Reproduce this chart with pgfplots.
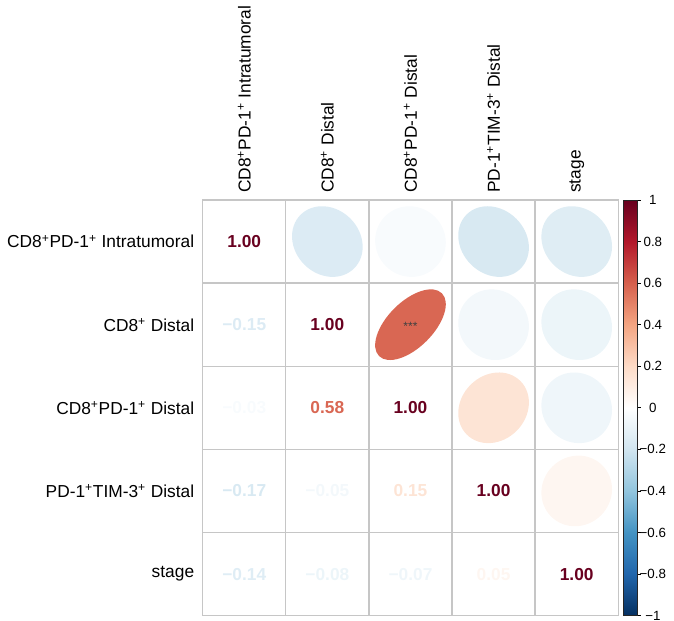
\documentclass[border=0pt]{standalone}
\usepackage{pgfplots}
\pgfplotsset{compat=1.18}
\usepackage{pgfplotstable}
\usepackage{fontspec}
\setmainfont{Liberation Sans}
\pgfdeclareplotmark{empty}{}
\pgfplotsset{
  colormap={RdBu}{rgb255=(5,48,97) rgb255=(33,102,172) rgb255=(67,147,195) rgb255=(146,197,222) rgb255=(209,229,240) rgb255=(255,255,255) rgb255=(253,219,199) rgb255=(244,165,130) rgb255=(214,96,77) rgb255=(178,24,43) rgb255=(103,0,31)}
}
% upper triangle: ellipses (x = column, y = 6 - row)
\pgfplotstableread{
x y r
2 5 -0.15
3 5 -0.03
4 5 -0.17
5 5 -0.14
3 4 0.58
4 4 -0.05
5 4 -0.08
4 3 0.15
5 3 -0.07
5 2 0.05
}\uppertab
% lower triangle and diagonal: numbers
\pgfplotstableread{
x y r
1 5 1.00
1 4 -0.15
2 4 1.00
1 3 -0.03
2 3 0.58
3 3 1.00
1 2 -0.17
2 2 -0.05
3 2 0.15
4 2 1.00
1 1 -0.14
2 1 -0.08
3 1 -0.07
4 1 0.05
5 1 1.00
}\lowertab
\begin{document}
\begin{tikzpicture}
\begin{axis}[
  name=main,
  x=62.33pt, y=62.33pt,
  xmin=0.5, xmax=5.5, ymin=0.5, ymax=5.5,
  xtick={1,2,3,4,5}, ytick={1,2,3,4,5},
  xticklabels={CD8\textsuperscript{+}PD-1\textsuperscript{+} Intratumoral, CD8\textsuperscript{+} Distal, CD8\textsuperscript{+}PD-1\textsuperscript{+} Distal, PD-1\textsuperscript{+}TIM-3\textsuperscript{+} Distal, stage},
  yticklabels={stage, PD-1\textsuperscript{+}TIM-3\textsuperscript{+} Distal, CD8\textsuperscript{+}PD-1\textsuperscript{+} Distal, CD8\textsuperscript{+} Distal, CD8\textsuperscript{+}PD-1\textsuperscript{+} Intratumoral},
  xticklabel pos=right,
  xticklabel style={rotate=90, anchor=west, inner sep=5.25pt},
  yticklabel style={anchor=east, inner sep=6.2pt},
  tick label style={font=\fontsize{13}{15}\selectfont},
  extra x ticks={1.5,2.5,3.5,4.5},
  extra y ticks={1.5,2.5,3.5,4.5},
  extra x tick labels={}, extra y tick labels={},
  extra tick style={grid=major, major grid style={gray!45, line width=1pt}, major tick length=0pt},
  axis line style={gray!45, line width=1pt},
  major tick length=0pt, minor tick length=0pt,
  point meta min=-1, point meta max=1,
  colormap name=RdBu,
  colorbar,
  colorbar style={
    at={(parent axis.north east)}, anchor=north west, xshift=-4.6pt,
    scale only axis, width=10.5pt, height=311.65pt,
    ymin=-1, ymax=1,
    ytick={-1,-0.8,-0.6,-0.4,-0.2,0,0.2,0.4,0.6,0.8,1},
    yticklabels={−1,−0.8,−0.6,−0.4,−0.2,0,0.2,0.4,0.6,0.8,1},
    ytick pos=right, yticklabel pos=right,
    tick align=outside, major tick length=2.5pt,
    ytick style={black, line width=0.6pt},
    axis line style={black!85, line width=0.6pt},
    yticklabel style={font=\fontsize{10}{12}\selectfont, anchor=center, xshift=9pt},
  },
]
\addplot[scatter, only marks, mark=empty, point meta=explicit,
  scatter/@pre marker code/.code={%
    \pgfscope
    \pgfplotscolormapdefinemappedcolor{\pgfplotspointmetatransformed}%
    \pgfmathsetmacro\rval{\pgfplotspointmetatransformed/500-1}%
    \pgfmathsetmacro\ea{26.49*sqrt(1+\rval)/sqrt(2)}%
    \pgfmathsetmacro\eb{26.49*sqrt(1-\rval)/sqrt(2)}%
    \pgfpathellipse{\pgfpointorigin}{\pgfpoint{\ea pt}{\ea pt}}{\pgfpoint{-\eb pt}{\eb pt}}%
    \pgfsetfillcolor{mapped color}%
    \pgfusepath{fill}%
  },
  scatter/@post marker code/.code={\endpgfscope},
] table[x=x, y=y, meta=r] {\uppertab};
\addplot[scatter, only marks, mark=empty, point meta=explicit,
  scatter/@pre marker code/.code={%
    \pgfscope
    \pgfplotscolormapdefinemappedcolor{\pgfplotspointmetatransformed}%
    \pgfmathsetmacro\rval{\pgfplotspointmetatransformed/500-1}%
    \pgfmathsetmacro\absr{abs(\rval)}%
    \ifdim\rval pt<0pt \def\sgn{−}\else\def\sgn{}\fi
    \pgftext{\color{mapped color}\fontsize{13}{15}\selectfont\bfseries\sgn\pgfmathprintnumber[fixed, fixed zerofill, precision=2, assume math mode=true]{\absr}}%
  },
  scatter/@post marker code/.code={\endpgfscope},
] table[x=x, y=y, meta=r] {\lowertab};
\addplot[only marks, mark=empty, nodes near coords={***},
  every node near coord/.style={anchor=center, font=\fontsize{9}{10}\selectfont, text=black!75, inner sep=0pt, yshift=-1.5pt}]
  coordinates {(3,4)};
\end{axis}
\pgfresetboundingbox
\path[use as bounding box] ([xshift=-152pt,yshift=-3.75pt]main.south west) rectangle ([xshift=41.8pt,yshift=150pt]main.north east);
\end{tikzpicture}
\end{document}
